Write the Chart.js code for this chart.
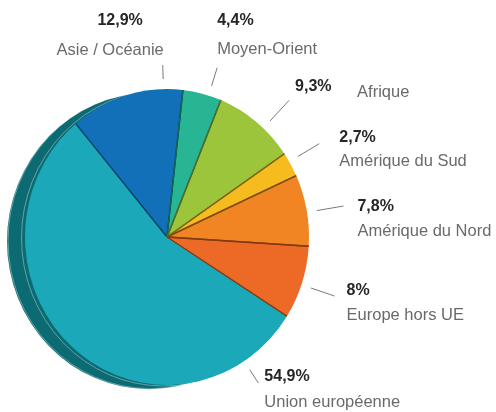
<!DOCTYPE html>
<html>
<head>
<meta charset="utf-8">
<script src="https://cdn.jsdelivr.net/npm/chart.js@4.4.1/dist/chart.umd.min.js"></script>
<style>
  html, body { margin: 0; background: #fff; }
  canvas { display: block; }
</style>
</head>
<body>
<canvas id="chart" width="496" height="412"></canvas>
<script>
// Données (en %), sens horaire à partir de l'Asie
const categories = ["Asie / Océanie", "Moyen-Orient", "Afrique", "Amérique du Sud", "Amérique du Nord", "Europe hors UE", "Union européenne"];
const shares = [12.9, 4.4, 9.3, 2.7, 7.8, 8, 54.9];
const colors = ["#1170b7", "#28b593", "#9cc53c", "#f6bb1f", "#f18524", "#ec6a26", "#1ba8b8"];

// placement des étiquettes : t = position dans la part, len = longueur du trait
const labelLayout = [
  { t: 0.83, len: 24, pct: [-20, -44, "right"], name: [1, -15, "right"] },
  { t: 0.67, len: 29, pct: [0, -47, "left"], name: [0, -18, "left"] },
  { t: 0.61, len: 38, pct: [6, -14, "left"], name: [68, -8, "left"] },
  { t: 0.37, len: 35, pct: [20, -6, "left"], name: [20, 18, "left"] },
  { t: 0.53, len: 37, pct: [14, 1, "left"], name: [14, 25, "left"] },
  { t: 0.53, len: 35, pct: [12, -5, "left"], name: [12, 19, "left"] },
  { t: 0.125, len: 26, pct: [6, -6, "left"], name: [6, 19, "left"] },
];

const Y_SCALE = 1.042;
const FONT = "'Liberation Sans', Arial, sans-serif";

const fmt = v => String(v).replace(".", ",") + "%";

function darken(hex, k) {
  const n = parseInt(hex.slice(1), 16);
  const r = Math.round(((n >> 16) & 255) * k);
  const g = Math.round(((n >> 8) & 255) * k);
  const b = Math.round((n & 255) * k);
  return `rgb(${r},${g},${b})`;
}

const pie3d = {
  id: "pie3d",
  beforeDatasetsDraw(chart) {
    const { x, y, outerRadius: r } = chart.getDatasetMeta(0).data[0];
    const ctx = chart.ctx;
    ctx.save();
    ctx.translate(x, y);
    ctx.scale(1, Y_SCALE);
    ctx.translate(-x, -y);
    // épaisseur du disque
    ctx.fillStyle = "#0b6a72";
    ctx.beginPath();
    ctx.arc(x - 18, y + 4, r, 0, Math.PI * 2);
    ctx.fill();
    ctx.strokeStyle = "rgba(255,255,255,0.45)";
    ctx.lineWidth = 0.8;
    ctx.beginPath();
    ctx.arc(x - 17, y + 3.5, r, 0, Math.PI * 2);
    ctx.stroke();
    ctx.beginPath();
    ctx.arc(x - 3.5, y + 1, r, 0, Math.PI * 2);
    ctx.stroke();
  },
  afterDatasetsDraw(chart) {
    const ctx = chart.ctx;
    const arcs = chart.getDatasetMeta(0).data;
    ctx.lineWidth = 1.4;
    arcs.forEach((a, i) => {
      if (i === arcs.length - 1) return;
      ctx.strokeStyle = darken(colors[i], 0.55);
      [a.startAngle, a.endAngle].forEach(ang => {
        ctx.beginPath();
        ctx.moveTo(a.x, a.y);
        ctx.lineTo(a.x + a.outerRadius * Math.cos(ang), a.y + a.outerRadius * Math.sin(ang));
        ctx.stroke();
      });
    });
    ctx.restore();
  },
  afterDraw(chart) {
    const ctx = chart.ctx;
    const arcs = chart.getDatasetMeta(0).data;
    const { x: cx, y: cy, outerRadius: r } = arcs[0];
    ctx.save();
    ctx.textBaseline = "middle";
    arcs.forEach((a, i) => {
      const L = labelLayout[i];
      const ang = a.startAngle + L.t * (a.endAngle - a.startAngle);
      const c = Math.cos(ang), s = Math.sin(ang);
      const p = d => [cx + (r + d) * c, cy + (r * Y_SCALE + d) * s];
      const [x1, y1] = p(10);
      const [x2, y2] = p(L.len);
      ctx.strokeStyle = "#7a7a7a";
      ctx.lineWidth = 1;
      ctx.beginPath();
      ctx.moveTo(x1, y1);
      ctx.lineTo(x2, y2);
      ctx.stroke();

      ctx.font = "bold 16px " + FONT;
      ctx.fillStyle = "#262626";
      ctx.textAlign = L.pct[2];
      ctx.fillText(fmt(shares[i]), x2 + L.pct[0], y2 + L.pct[1]);

      ctx.font = "16.5px " + FONT;
      ctx.fillStyle = "#6a6a6a";
      ctx.textAlign = L.name[2];
      ctx.fillText(categories[i], x2 + L.name[0], y2 + L.name[1]);
    });
    ctx.restore();
  }
};

new Chart(document.getElementById("chart"), {
  type: "pie",
  data: {
    labels: categories,
    datasets: [{
      data: shares,
      backgroundColor: colors,
      borderWidth: 0,
      hoverOffset: 0
    }]
  },
  options: {
    responsive: false,
    animation: false,
    devicePixelRatio: 1,
    rotation: -40,
    events: [],
    layout: { padding: { left: 25, right: 187, top: 95, bottom: 33 } },
    plugins: {
      legend: { display: false },
      tooltip: { enabled: false }
    }
  },
  plugins: [pie3d]
});
</script>
</body>
</html>
